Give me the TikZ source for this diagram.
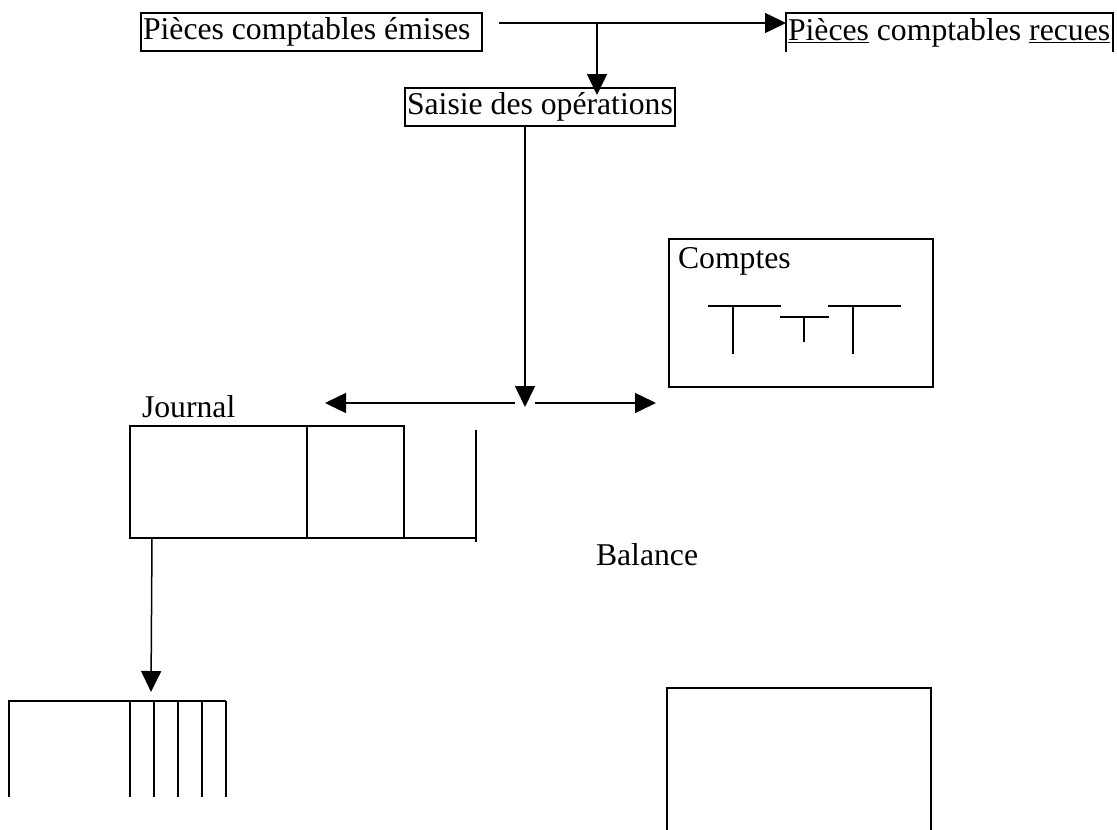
\documentclass[tikz,border=0pt]{standalone}
\usepackage{fontspec}
\setmainfont{Liberation Serif}
\usetikzlibrary{arrows.meta, calc}

\begin{document}
\begin{tikzpicture}[x=1pt, y=-1pt, line width=1.8pt,
        txt/.style={inner sep=0pt, outer sep=0pt, font=\fontsize{31.7}{38}\selectfont},
        piece/.style={txt, anchor=west, text height=22pt, text depth=7pt, inner xsep=2pt},
        cadre/.style={draw, anchor=north west, inner sep=0pt, outer sep=0pt},
        flow/.style={line width=1.5pt, -{Triangle[length=21pt, width=20pt]}}]
        \useasboundingbox (0,0) rectangle (1117,830);

        % pieces et saisie
        \node[piece, draw, minimum height=38pt] (emises) at (141,32) {\makebox[337pt][l]{Pièces comptables émises}};
        \node[piece, minimum height=39pt] (recues) at (786,32.5) {\makebox[323pt][l]{\underline{Pièces} comptables \underline{recues}}};
        \draw (recues.south west) -- (recues.north west) -- (recues.north east) -- (recues.south east);
        \node[piece, draw, minimum height=38pt] (saisie) at (405,107) {\makebox[266pt][l]{Saisie des opérations}};

        \coordinate (start) at (499,23);
        \coordinate (fork) at (597,23);
        \draw[flow] (start) -- (start -| recues.west);
        \draw[flow] (fork) -- ($(fork |- saisie.north)+(0,7)$);

        \coordinate (hub) at (525,403);
        \coordinate (toJournal) at (325,403);
        \coordinate (toComptes) at (656,403);
        \draw[flow] (saisie.south -| hub) -- ($(hub)+(0,4)$);
        \draw[flow] ($(hub)+(-10,0)$) -- (toJournal);
        \draw[flow] ($(hub)+(10,0)$) -- (toComptes);

        % comptes
        \node[cadre, minimum width=264pt, minimum height=148pt] (comptes) at (669,239) {};
        \node[txt, anchor=base west] (comptesLabel) at (678,268) {Comptes};
        \foreach \x in {708,828}
            \draw (\x,306) -- ++(73,0) (\x+25,306) -- ++(0,48);
        \draw (780,317) -- (829,317) (804,317) -- (804,342);

        % journal
        \node[txt, anchor=base west] (journalLabel) at (142,417) {Journal};
        \node[cadre, minimum width=274pt, minimum height=112pt] (journal) at (130,426) {};
        \draw (307,426) -- (307,538);
        \draw (journal.south east) -- (476,538) (476,430) -- (476,542);

        \coordinate (ledgerIn) at (151,692);
        \draw[flow] ($(journal.south west)+(22,0)$) -- (ledgerIn);

        % grand livre
        \draw (9,797) -- (9,701) -- (226,701);
        \foreach \x in {130,154,178,202,226}
            \draw (\x,701) -- (\x,797);

        % balance
        \node[txt, anchor=base west] (balanceLabel) at (596,565) {Balance};
        \draw (667,832) -- (667,688) -- (931,688) -- (931,832);
    \end{tikzpicture}
\end{document}
